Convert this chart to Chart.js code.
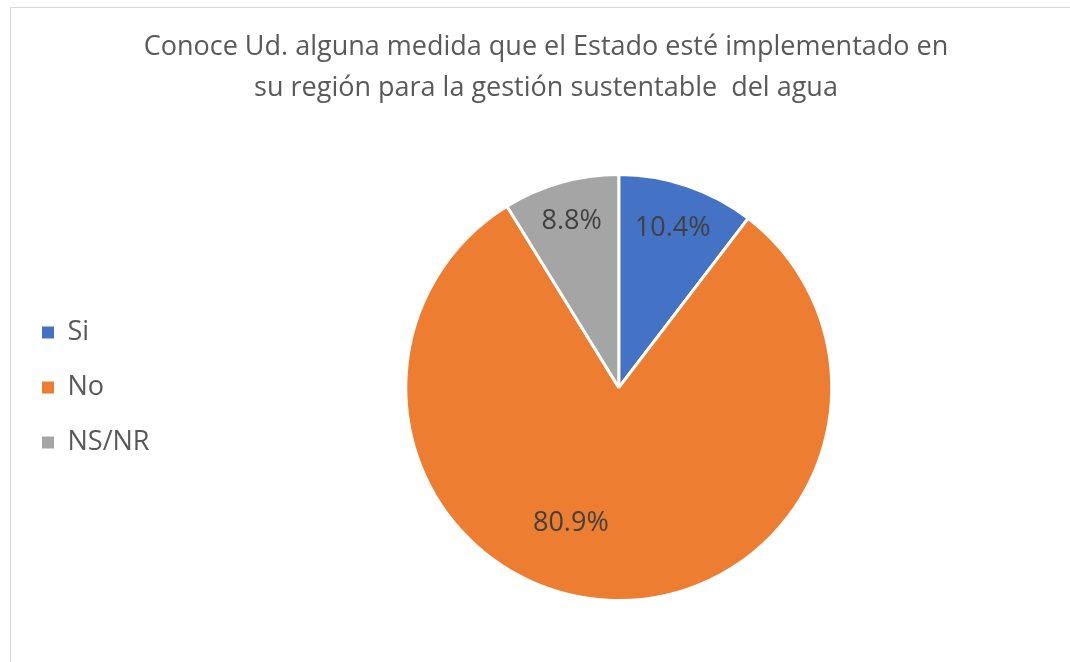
<!DOCTYPE html>
<html>
<head>
<meta charset="utf-8">
<script src="https://cdn.jsdelivr.net/npm/chart.js@4/dist/chart.umd.min.js"></script>
<style>
  html, body { margin: 0; padding: 0; background: #fff; overflow: hidden; }
  #frame { position: absolute; left: 10px; top: 7px; width: 1100px; height: 700px; border: 1px solid #d9d9d9; }
  #wrap { position: absolute; left: 0; top: 0; width: 1100px; height: 662px; }
</style>
</head>
<body>
<div id="frame"></div>
<div id="wrap"><canvas id="myChart" width="1100" height="662"></canvas></div>
<script>
// answers and their shares (%)
const categories = ['Si', 'No', 'NS/NR'];
const values = [10.4, 80.9, 8.8];
const colors = ['#4472C4', '#ED7D31', '#A5A5A5'];
const titleLines = [
  'Conoce Ud. alguna medida que el Estado esté implementado en',
  'su región para la gestión sustentable  del agua'
];

// percentage labels inside the slices (Excel "best fit" look)
const sliceLabels = {
  id: 'sliceLabels',
  afterDatasetsDraw(chart, args, opts) {
    const ctx = chart.ctx;
    const meta = chart.getDatasetMeta(0);
    ctx.save();
    ctx.font = opts.font;
    ctx.fillStyle = opts.color;
    ctx.textAlign = 'center';
    ctx.textBaseline = 'middle';
    meta.data.forEach(function (arc, i) {
      const p = arc.getProps(['x', 'y', 'startAngle', 'endAngle', 'outerRadius'], true);
      const place = opts.place[i];
      const mid = (p.startAngle + p.endAngle) / 2 + place.shift * Math.PI / 180;
      const r = p.outerRadius * place.radius;
      ctx.fillText(values[i].toFixed(1) + '%', p.x + Math.cos(mid) * r, p.y + Math.sin(mid) * r);
    });
    ctx.restore();
  }
};

const chart = new Chart(document.getElementById('myChart'), {
  type: 'pie',
  data: {
    labels: categories,
    datasets: [{
      data: values,
      backgroundColor: colors,
      borderColor: '#ffffff',
      borderWidth: 3
    }]
  },
  plugins: [sliceLabels],
  options: {
    responsive: false,
    animation: false,
    layout: { padding: { left: 14, right: 22, top: 0, bottom: 60 } },
    plugins: {
      title: {
        display: true,
        text: titleLines,
        color: '#595959',
        font: { family: '"Open Sans"', size: 27, weight: 'normal', lineHeight: 1.52 },
        padding: { top: 27, bottom: 64 }
      },
      legend: {
        position: 'left',
        fullSize: false,
        labels: {
          boxWidth: 12,
          boxHeight: 12,
          padding: 28,
          color: '#595959',
          font: { family: '"Open Sans"', size: 27 },
          // no white outline on the legend squares
          generateLabels: function (chart) {
            return Chart.overrides.pie.plugins.legend.labels.generateLabels(chart).map(function (item) {
              item.lineWidth = 0;
              return item;
            });
          }
        }
      },
      tooltip: { enabled: false },
      sliceLabels: {
        font: '27px "Open Sans"',
        color: '#404040',
        place: [
          { radius: 0.79, shift: 0 },
          { radius: 0.675, shift: 16.6 },
          { radius: 0.81, shift: 0 }
        ]
      }
    }
  }
});
</script>
</body>
</html>
